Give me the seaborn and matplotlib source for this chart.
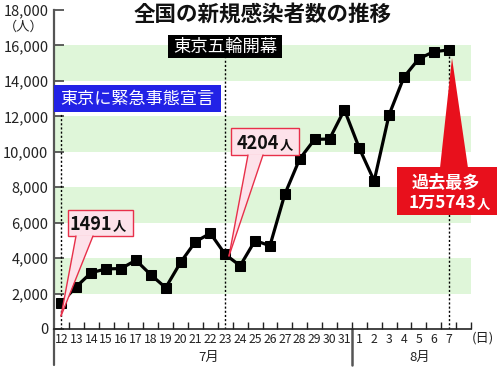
import numpy as np
import pandas as pd
import matplotlib
matplotlib.use('Agg')
import matplotlib.pyplot as plt
import seaborn as sns
from matplotlib.patches import Rectangle, Polygon
from matplotlib.lines import Line2D
from matplotlib.transforms import blended_transform_factory

# ---- data ----
days = ['12', '13', '14', '15', '16', '17', '18', '19', '20', '21', '22', '23', '24', '25',
        '26', '27', '28', '29', '30', '31', '1', '2', '3', '4', '5', '6', '7']
cases = [1491, 2390, 3180, 3390, 3410, 3880, 3060, 2330, 3760, 4930, 5400, 4204, 3570, 4990,
         4700, 7610, 9600, 10700, 10720, 12370, 10200, 8360, 12090, 14220, 15250, 15650, 15743]
months = ['7月', '8月']
yticks = list(range(0, 18001, 2000))
bands = [(2000, 4000), (6000, 8000), (10000, 12000), (14000, 16000)]

sns.set_style('white')
plt.rcParams['font.family'] = ['Noto Sans CJK JP', 'DejaVu Sans']

W, H = 500, 367
fig = plt.figure(figsize=(W / 100, H / 100), dpi=100)
ax = fig.add_axes([54 / W, 1 - 329 / H, (471 - 54) / W, (329 - 10) / H])


def F(x, y):
    return (x / W, 1 - y / H)


df = pd.DataFrame({'idx': np.arange(len(days)), 'cases': cases})

for lo, hi in bands:
    ax.axhspan(lo, hi, color='#dff6d9', lw=0, zorder=0)

ax.set_xlim(-0.5, 27.5)
ax.set_ylim(0, 18000)

# dotted event lines
dot = dict(color='black', lw=1.0, linestyle=(0, (1.5, 1.5)), zorder=2)
ax.vlines(0, 0, 12200, **dot)
ax.vlines(11, 0, 15300, **dot)
ax.vlines(26, 0, cases[-1], **dot)

sns.lineplot(data=df, x='idx', y='cases', ax=ax, color='black', lw=2.3,
             marker='s', markersize=7.5, markeredgecolor='black', zorder=5)

ax.set_xlabel('')
ax.set_ylabel('')
ax.set_yticks(yticks)
ax.set_yticklabels([f'{v:,}' for v in yticks])
ax.tick_params(axis='y', direction='in', length=7, width=1.2, pad=4,
               labelsize=10.5, labelcolor='#222222', color='#444444', left=True)
ax.set_xticks(np.arange(len(days)))
ax.set_xticklabels(days)
ax.tick_params(axis='x', which='major', length=0, pad=3, labelsize=8.8, labelcolor='#222222')
ax.set_xticks(np.arange(0.5, 27.6, 1), minor=True)
ax.tick_params(axis='x', which='minor', direction='in', length=5, width=1, color='#222222', bottom=True)

for s in ['top', 'right']:
    ax.spines[s].set_visible(False)
ax.spines['left'].set_color('#555555')
ax.spines['left'].set_linewidth(1.6)
ax.spines['bottom'].set_color('#222222')
ax.spines['bottom'].set_linewidth(1.2)

trans = blended_transform_factory(ax.transData, ax.transAxes)
ax.plot([-0.5, -0.5], [0, -0.113], transform=trans, clip_on=False, color='#555555', lw=1.6)
ax.plot([19.5, 19.5], [0, -0.113], transform=trans, clip_on=False, color='#555555', lw=1.8)

# month labels and unit labels
fig.text(*F(209, 357), months[0], ha='center', va='center', fontsize=9.5, color='#222222')
fig.text(*F(420, 357), months[1], ha='center', va='center', fontsize=9.5, color='#222222')
fig.text(*F(483, 338), '(日)', ha='center', va='center', fontsize=9.5, color='#222222')
fig.text(*F(24, 27), '（人）', ha='center', va='center', fontsize=9.5, color='#222222')

# title
fig.text(*F(263, 14), '全国の新規感染者数の推移', ha='center', va='center',
         fontsize=15.5, fontweight='bold', color='#111111')

# black box: Olympics opening
fig.add_artist(Rectangle(F(168, 58), 114 / W, 23 / H, transform=fig.transFigure,
                         facecolor='black', edgecolor='none', zorder=3))
fig.text(*F(225, 47), '東京五輪開幕', ha='center', va='center', fontsize=12.5,
         color='white', zorder=4)

# blue box: emergency
fig.add_artist(Rectangle(F(54, 112), 167 / W, 27 / H, transform=fig.transFigure,
                         facecolor='#2222e6', edgecolor='none', zorder=3))
fig.text(*F(137.5, 99), '東京に緊急事態宣言', ha='center', va='center', fontsize=12.3,
         color='white', zorder=4)

pink = '#fde2ea'
red_edge = '#e8304a'


def callout(x0, y0, x1, y1, p0, p1, tip, num, numx, basey):
    fig.add_artist(Rectangle(F(x0, y1), (x1 - x0) / W, (y1 - y0) / H, transform=fig.transFigure,
                             facecolor=pink, edgecolor=red_edge, lw=1.0, zorder=6))
    fig.add_artist(Polygon([F(p0, y1 - 0.8), F(p1, y1 - 0.8), F(*tip)], closed=True,
                           transform=fig.transFigure, facecolor=pink, edgecolor='none', zorder=7))
    for p in (p0, p1):
        a, b = F(p, y1), F(*tip)
        fig.add_artist(Line2D([a[0], b[0]], [a[1], b[1]], transform=fig.transFigure,
                              color=red_edge, lw=1.0, zorder=8))
    fig.text(*F(numx, basey), num, ha='right', va='baseline', fontsize=13,
             fontweight='bold', color='#111111', zorder=9)
    fig.text(*F(numx + 1, basey), '人', ha='left', va='baseline', fontsize=9.5,
             fontweight='bold', color='#111111', zorder=9)


callout(68, 210, 133, 236, 76, 93, (61, 316), '1491', 112, 230)
callout(231, 128, 299, 155, 248, 263, (229, 256), '4204', 279, 149)

# red callout: record
red = '#e8101c'
fig.add_artist(Polygon([F(440, 168), F(468, 168), F(452, 58)], closed=True,
                       transform=fig.transFigure, facecolor=red, edgecolor='none', zorder=6))
fig.add_artist(Rectangle(F(397, 215), 100 / W, 48 / H, transform=fig.transFigure,
                         facecolor=red, edgecolor='none', zorder=6))
fig.text(*F(446, 183), '過去最多', ha='center', va='center', fontsize=12.3,
         fontweight='bold', color='white', zorder=9)
fig.text(*F(476, 208), '1万5743', ha='right', va='baseline', fontsize=12.3,
         fontweight='bold', color='white', zorder=9)
fig.text(*F(477, 208), '人', ha='left', va='baseline', fontsize=9.5,
         fontweight='bold', color='white', zorder=9)

fig.savefig('out.png', dpi=100)
